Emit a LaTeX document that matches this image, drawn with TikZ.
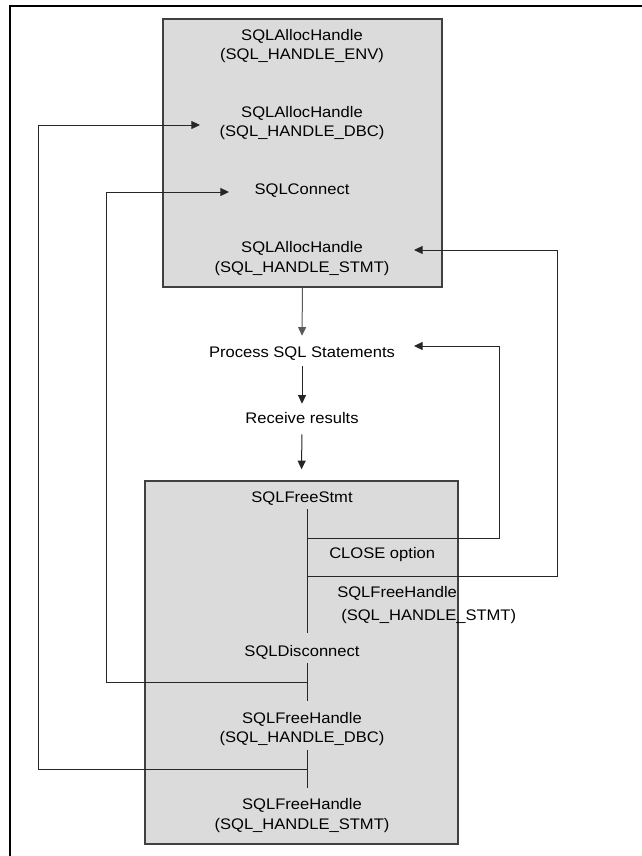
\documentclass[tikz,border=0pt]{standalone}
\usepackage{fontspec}
\setmainfont[FakeStretch=1.08]{Liberation Sans}
\usetikzlibrary{positioning}
\usetikzlibrary{arrows.meta}

\begin{document}
\begin{tikzpicture}[x=0.75pt, y=-0.75pt,
        font=\fontsize{11.5}{14.6}\selectfont,
        panel/.style={draw=black!75, fill=black!14, line width=1pt},
        call/.style={inner sep=0pt, text height=9pt, text depth=2.5pt},
        pair/.style={inner sep=0pt, align=center},
        flow/.style={-{Triangle[length=6.5pt,width=6pt]}, line width=0.75pt, draw=black!85},
        link/.style={line width=0.75pt, draw=black!85}]
        \useasboundingbox (0,0) rectangle (642,856);
        \draw[line width=1.5pt] (10,856) -- (10,6) -- (642,6);

        % the two panels
        \node[panel, minimum width=209.25pt, minimum height=201pt] (alloc) at (302.5,153) {};
        \node[panel, minimum width=234.75pt, minimum height=272.25pt] (free) at (301.5,662.5) {};

        % calls in the upper panel
        \node[pair] (env) at (302,46) {SQLAllocHandle\\(SQL\_HANDLE\_ENV)};
        \node[pair] (dbc) at (302,123) {SQLAllocHandle\\(SQL\_HANDLE\_DBC)};
        \node[call] (connect) at (302,190) {SQLConnect};
        \node[pair] (stmt) at (302,258.5) {SQLAllocHandle\\(SQL\_HANDLE\_STMT)};

        % middle steps
        \node[call] (process) at (302,353) {Process SQL Statements};
        \node[call] (receive) at (302,419) {Receive results};

        % calls in the lower panel
        \node[call] (freestmt) at (302,498) {SQLFreeStmt};
        \node[call, anchor=west] (close) at (329,554) {CLOSE option};
        \node[call, anchor=west] (fhname) at (337,593) {SQLFreeHandle};
        \node[call, anchor=west] (fhstmt) at (341,616) {(SQL\_HANDLE\_STMT)};
        \node[call] (disconnect) at (302,652) {SQLDisconnect};
        \node[pair] (freedbc) at (302,729) {SQLFreeHandle\\(SQL\_HANDLE\_DBC)};
        \node[pair] (freeenv) at (302,815.5) {SQLFreeHandle\\(SQL\_HANDLE\_STMT)};

        \draw[flow, draw=black!65] (alloc.south) -- ([yshift=7pt]process.north);
        \draw[flow, shorten <=4pt, shorten >=5.5pt] (process) -- (receive);
        \draw[flow, shorten <=5.5pt, shorten >=8.25pt] (receive) -- (free.north);

        % stems and loops back
        \coordinate (t1) at (307,509);
        \coordinate (t2) at (307,633);
        \coordinate (t3) at (307,663);
        \coordinate (t4) at (307,701);
        \coordinate (t5) at (307,750);
        \coordinate (t6) at (307,788);
        \draw[link] (t1) -- (t2);
        \draw[link] (t3) -- (t4);
        \draw[link] (t5) -- (t6);

        \coordinate (b1) at (307,538);
        \coordinate (r1) at (499,346);
        \coordinate (e1) at (414,346);
        \draw[flow] (b1) -| (r1) -- (e1);

        \coordinate (b2) at (307,576);
        \coordinate (r2) at (557,250);
        \coordinate (e2) at (414,250);
        \draw[flow] (b2) -| (r2) -- (e2);

        \coordinate (b3) at (307,682);
        \coordinate (r3) at (106,192);
        \coordinate (e3) at (229,192);
        \draw[flow] (b3) -| (r3) -- (e3);

        \coordinate (b4) at (307,769);
        \coordinate (r4) at (38,125);
        \coordinate (e4) at (200,125);
        \draw[flow] (b4) -| (r4) -- (e4);
    \end{tikzpicture}
\end{document}
